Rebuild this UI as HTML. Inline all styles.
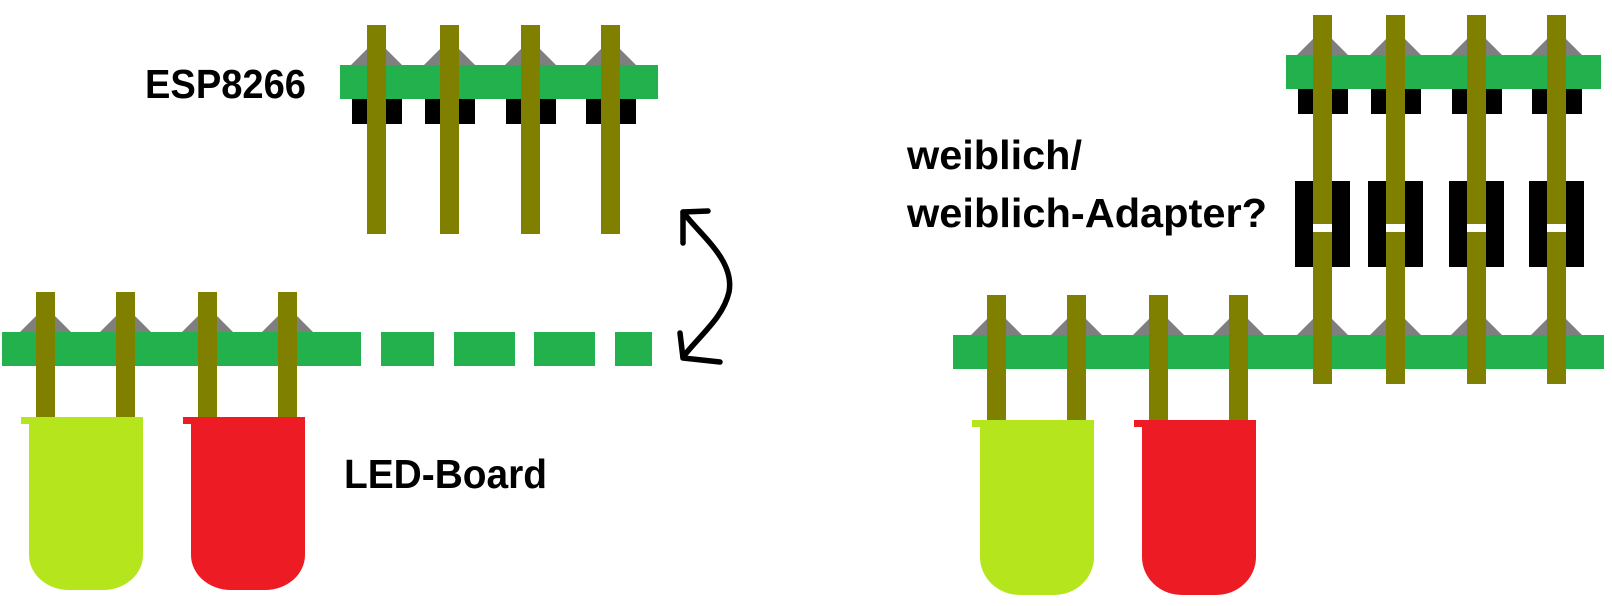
<!DOCTYPE html>
<html><head><meta charset="utf-8"><style>html,body{margin:0;padding:0;background:#fff}svg{display:block}</style></head>
<body>
<svg width="1612" height="606" viewBox="0 0 1612 606" xmlns="http://www.w3.org/2000/svg">
<defs>
<polygon id="tri" points="-25.5,0 25.5,0 0,-25.5" fill="#7f7f7f"/>
</defs>
<g font-family="Liberation Sans, sans-serif" font-weight="bold" font-size="41" fill="#000">
<text x="145" y="98" textLength="161" lengthAdjust="spacingAndGlyphs">ESP8266</text>
<text x="344" y="488" textLength="203" lengthAdjust="spacingAndGlyphs">LED-Board</text>
<text x="907" y="169" textLength="175" lengthAdjust="spacingAndGlyphs">weiblich/</text>
<text x="907" y="227" textLength="360" lengthAdjust="spacingAndGlyphs">weiblich-Adapter?</text>
</g>

<!-- ESP header -->
<use href="#tri" x="376.5" y="65"/><use href="#tri" x="449.5" y="65"/><use href="#tri" x="530.5" y="65"/><use href="#tri" x="610.5" y="65"/>
<rect x="340" y="65" width="318" height="34" fill="#22b14c"/>
<g fill="#000">
<rect x="352" y="99" width="50" height="25"/><rect x="425" y="99" width="50" height="25"/><rect x="506" y="99" width="50" height="25"/><rect x="586" y="99" width="50" height="25"/>
</g>
<g fill="#808000">
<rect x="367" y="25" width="19" height="209"/><rect x="440" y="25" width="19" height="209"/><rect x="521" y="25" width="19" height="209"/><rect x="601" y="25" width="19" height="209"/>
</g>

<!-- left LED board -->
<use href="#tri" x="45.5" y="332"/><use href="#tri" x="125.5" y="332"/><use href="#tri" x="207.5" y="332"/><use href="#tri" x="287.5" y="332"/>
<g fill="#22b14c">
<rect x="2" y="332" width="359" height="34"/>
<rect x="381" y="332" width="53" height="34"/><rect x="454" y="332" width="61" height="34"/><rect x="534" y="332" width="61" height="34"/><rect x="615" y="332" width="37" height="34"/>
</g>
<g fill="#808000">
<rect x="36" y="292" width="19" height="125"/><rect x="116" y="292" width="19" height="125"/><rect x="198" y="292" width="19" height="125"/><rect x="278" y="292" width="19" height="125"/>
</g>
<g fill="#b5e61d">
<rect x="21" y="417" width="122" height="7"/>
<path d="M29,417 H143 V555 A40 35 0 0 1 103 590 H69 A40 35 0 0 1 29 555 Z"/>
</g>
<g fill="#ed1c24">
<rect x="183" y="417" width="122" height="7"/>
<path d="M191,417 H305 V555 A40 35 0 0 1 265 590 H231 A40 35 0 0 1 191 555 Z"/>
</g>

<!-- arrow -->
<g fill="none" stroke="#000" stroke-width="5.5" stroke-linecap="round" stroke-linejoin="round">
<path d="M683,212 C700,235 735,260 729,292 C723,318 700,335 683,357"/>
<path d="M683,243 L683,212 L708,211"/>
<path d="M680,333 L683,358 L720,362"/>
</g>

<!-- right side -->
<use href="#tri" x="1322.5" y="55"/><use href="#tri" x="1395.5" y="55"/><use href="#tri" x="1476.5" y="55"/><use href="#tri" x="1556.5" y="55"/>
<rect x="1286" y="55" width="315" height="34" fill="#22b14c"/>
<g fill="#000">
<rect x="1298" y="89" width="50" height="25"/><rect x="1371" y="89" width="50" height="25"/><rect x="1452" y="89" width="50" height="25"/><rect x="1532" y="89" width="50" height="25"/>
<rect x="1295" y="181" width="55" height="86"/><rect x="1368" y="181" width="55" height="86"/><rect x="1449" y="181" width="55" height="86"/><rect x="1529" y="181" width="55" height="86"/>
</g>

<use href="#tri" x="996.5" y="335"/><use href="#tri" x="1076.5" y="335"/><use href="#tri" x="1158.5" y="335"/><use href="#tri" x="1238.5" y="335"/>
<use href="#tri" x="1322.5" y="335"/><use href="#tri" x="1395.5" y="335"/><use href="#tri" x="1476.5" y="335"/><use href="#tri" x="1556.5" y="335"/>
<rect x="953" y="335" width="651" height="34" fill="#22b14c"/>

<g fill="#808000">
<rect x="1313" y="15" width="19" height="369"/><rect x="1386" y="15" width="19" height="369"/><rect x="1467" y="15" width="19" height="369"/><rect x="1547" y="15" width="19" height="369"/>
<rect x="987" y="295" width="19" height="125"/><rect x="1067" y="295" width="19" height="125"/><rect x="1149" y="295" width="19" height="125"/><rect x="1229" y="295" width="19" height="125"/>
</g>
<g fill="#fff">
<rect x="1313" y="224" width="19" height="8"/><rect x="1386" y="224" width="19" height="8"/><rect x="1467" y="224" width="19" height="8"/><rect x="1547" y="224" width="19" height="8"/>
</g>

<g fill="#b5e61d">
<rect x="972" y="420" width="122" height="7"/>
<path d="M980,420 H1094 V557 A40 38 0 0 1 1054 595 H1020 A40 38 0 0 1 980 557 Z"/>
</g>
<g fill="#ed1c24">
<rect x="1134" y="420" width="122" height="7"/>
<path d="M1142,420 H1256 V557 A40 38 0 0 1 1216 595 H1182 A40 38 0 0 1 1142 557 Z"/>
</g>
</svg>
</body></html>
